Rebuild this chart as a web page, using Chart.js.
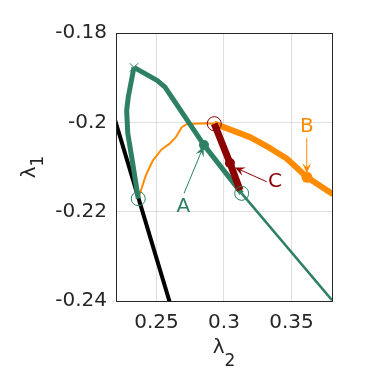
<!DOCTYPE html>
<html>
<head>
<meta charset="utf-8">
<script src="https://cdn.jsdelivr.net/npm/chart.js@4"></script>
<style>
  body { margin: 0; background: #fff; }
  canvas { display: block; }
</style>
</head>
<body>
<canvas id="chart" width="367" height="382"></canvas>
<script>
// axis ticks
const xTicks = [0.25, 0.3, 0.35];
const yTicks = [-0.24, -0.22, -0.2, -0.18];

// orange branch (thin part, then thick part)
const orangeThinX = [0.2367, 0.2385, 0.2422, 0.2474, 0.2533, 0.2600, 0.2644, 0.2687, 0.2724, 0.2874, 0.2928];
const orangeThinY = [-0.2168, -0.2152, -0.2118, -0.2085, -0.2062, -0.2047, -0.2033, -0.2011, -0.2004, -0.2002, -0.2003];
const orangeThickX = [0.2928, 0.2993, 0.3193, 0.3341, 0.3464, 0.3615, 0.3807];
const orangeThickY = [-0.2003, -0.2010, -0.2033, -0.2058, -0.2081, -0.2123, -0.2161];

// green branches
const greenLeftX = [0.2333, 0.2291, 0.2279, 0.2287, 0.2328, 0.2365];
const greenLeftY = [-0.1877, -0.1943, -0.1973, -0.2024, -0.2100, -0.2171];
const greenRightX = [0.2333, 0.2504, 0.2563, 0.2852, 0.3131];
const greenRightY = [-0.1877, -0.1906, -0.1921, -0.2051, -0.2159];
const greenThinX = [0.3131, 0.3800];
const greenThinY = [-0.2159, -0.2398];

// dark red branch
const redX = [0.2928, 0.3044, 0.3119];
const redY = [-0.2003, -0.2091, -0.2152];

// black line
const blackX = [0.2180, 0.2613];
const blackY = [-0.1982, -0.2418];

// markers
const circleX = [0.2365, 0.3131];
const circleY = [-0.2171, -0.2159];
const redCircleX = [0.2928];
const redCircleY = [-0.2003];
const crossX = [0.2333];
const crossY = [-0.1877];
const dotsX = { A: 0.2852, B: 0.3615, C: 0.3044 };
const dotsY = { A: -0.2051, B: -0.2123, C: -0.2091 };

// annotations
const labels = ["A", "B", "C"];
const labelX = [0.2699, 0.3613, 0.3378];
const labelY = [-0.2190, -0.2010, -0.2133];
const arrowFromX = [0.2704, 0.3613, 0.3316];
const arrowFromY = [-0.2159, -0.2035, -0.2133];
const arrowToX = [0.2848, 0.3613, 0.3081];
const arrowToY = [-0.2054, -0.2114, -0.2101];

const GREEN = "#2e8065";
const ORANGE = "#ff8c00";
const RED = "#8b0000";
const labelColors = [GREEN, ORANGE, RED];

const pts = (xs, ys) => xs.map((x, i) => ({ x: x, y: ys[i] }));

function lineSet(xs, ys, color, width, order) {
    return {
        data: pts(xs, ys),
        showLine: true,
        borderColor: color,
        backgroundColor: color,
        borderWidth: width,
        pointRadius: 0,
        tension: 0,
        borderJoinStyle: "round",
        order: order,
        clip: 0
    };
}

const overlayPlugin = {
    id: "overlay",
    afterDraw(chart) {
        const ctx = chart.ctx;
        const xs = chart.scales.x, ys = chart.scales.y;
        const area = chart.chartArea;
        ctx.save();

        // box
        ctx.strokeStyle = "#262626";
        ctx.lineWidth = 1;
        ctx.strokeRect(Math.round(area.left) + 0.5, Math.round(area.top) + 0.5,
            Math.round(area.right - area.left), Math.round(area.bottom - area.top));

        // annotation arrows and letters
        labels.forEach((lab, i) => {
            const x0 = xs.getPixelForValue(arrowFromX[i]);
            const y0 = ys.getPixelForValue(arrowFromY[i]);
            const x1 = xs.getPixelForValue(arrowToX[i]);
            const y1 = ys.getPixelForValue(arrowToY[i]);
            const a = Math.atan2(y1 - y0, x1 - x0);
            const len = 10, hw = 4.5;
            ctx.strokeStyle = labelColors[i];
            ctx.fillStyle = labelColors[i];
            ctx.lineWidth = 1;
            ctx.beginPath();
            ctx.moveTo(x0, y0);
            ctx.lineTo(x1 - Math.cos(a) * 4, y1 - Math.sin(a) * 4);
            ctx.stroke();
            const bx = x1 - Math.cos(a) * len, by = y1 - Math.sin(a) * len;
            const nx = -Math.sin(a), ny = Math.cos(a);
            const ix = x1 - Math.cos(a) * len * 0.6, iy = y1 - Math.sin(a) * len * 0.6;
            ctx.beginPath();
            ctx.moveTo(x1, y1);
            ctx.lineTo(bx + nx * hw, by + ny * hw);
            ctx.lineTo(ix, iy);
            ctx.lineTo(bx - nx * hw, by - ny * hw);
            ctx.closePath();
            ctx.fill();

            ctx.font = "20px 'DejaVu Sans'";
            ctx.textAlign = "center";
            ctx.textBaseline = "middle";
            ctx.fillText(lab, xs.getPixelForValue(labelX[i]), ys.getPixelForValue(labelY[i]));
        });

        // axis titles
        ctx.fillStyle = "#262626";
        ctx.textBaseline = "alphabetic";
        ctx.textAlign = "left";
        const cx = (area.left + area.right) / 2;
        ctx.font = "20px 'DejaVu Sans'";
        const wl = ctx.measureText("\u03bb").width;
        ctx.font = "17px 'DejaVu Sans'";
        const w2 = ctx.measureText("2").width;
        let sx = cx - (wl + w2) / 2;
        ctx.font = "20px 'DejaVu Sans'";
        ctx.fillText("\u03bb", sx, 353);
        ctx.font = "17px 'DejaVu Sans'";
        ctx.fillText("2", sx + wl, 366);

        const cy = (area.top + area.bottom) / 2;
        ctx.translate(35, cy);
        ctx.rotate(-Math.PI / 2);
        ctx.font = "20px 'DejaVu Sans'";
        const wl1 = ctx.measureText("\u03bb").width;
        ctx.font = "17px 'DejaVu Sans'";
        const w1 = ctx.measureText("1").width;
        sx = -(wl1 + w1) / 2;
        ctx.font = "20px 'DejaVu Sans'";
        ctx.fillText("\u03bb", sx, 0);
        ctx.font = "17px 'DejaVu Sans'";
        ctx.fillText("1", sx + wl1, 8);

        ctx.restore();
    }
};

new Chart(document.getElementById("chart").getContext("2d"), {
    type: "scatter",
    data: {
        datasets: [
            lineSet(orangeThinX, orangeThinY, ORANGE, 2, 9),
            lineSet(orangeThickX, orangeThickY, ORANGE, 6, 8),
            lineSet(blackX, blackY, "#000000", 4, 7),
            lineSet(greenThinX, greenThinY, GREEN, 2.5, 6),
            lineSet(greenLeftX, greenLeftY, GREEN, 5, 5),
            lineSet(greenRightX, greenRightY, GREEN, 5, 4),
            lineSet(redX, redY, RED, 7, 3),
            {
                data: [{ x: dotsX.A, y: dotsY.A }],
                pointRadius: 5, pointStyle: "circle",
                backgroundColor: GREEN, borderColor: GREEN, borderWidth: 0, order: 2
            },
            {
                data: [{ x: dotsX.B, y: dotsY.B }],
                pointRadius: 5.5, pointStyle: "circle",
                backgroundColor: ORANGE, borderColor: ORANGE, borderWidth: 0, order: 2
            },
            {
                data: [{ x: dotsX.C, y: dotsY.C }],
                pointRadius: 5, pointStyle: "circle",
                backgroundColor: RED, borderColor: RED, borderWidth: 0, order: 2
            },
            {
                data: pts(circleX, circleY),
                pointRadius: 7, pointStyle: "circle",
                backgroundColor: "rgba(0,0,0,0)", borderColor: GREEN, borderWidth: 1, order: 1
            },
            {
                data: pts(redCircleX, redCircleY),
                pointRadius: 7, pointStyle: "circle",
                backgroundColor: "rgba(0,0,0,0)", borderColor: RED, borderWidth: 1, order: 1
            },
            {
                data: pts(crossX, crossY),
                pointRadius: 6, pointStyle: "crossRot",
                backgroundColor: GREEN, borderColor: GREEN, borderWidth: 1, order: 1
            }
        ]
    },
    options: {
        responsive: false,
        animation: false,
        events: [],
        layout: { padding: { top: 33, right: 35, left: 0, bottom: 0 } },
        plugins: {
            legend: { display: false },
            tooltip: { enabled: false }
        },
        scales: {
            x: {
                type: "linear",
                min: 0.22,
                max: 0.38,
                afterBuildTicks: (axis) => { axis.ticks = xTicks.map(v => ({ value: v })); },
                afterFit: (scale) => { scale.height = 81; },
                grid: { color: "rgba(38,38,38,0.15)", drawTicks: false },
                border: { display: false },
                ticks: {
                    padding: 10,
                    color: "#262626",
                    font: { family: "'DejaVu Sans'", size: 20 },
                    maxRotation: 0,
                    callback: (v) => String(v)
                }
            },
            y: {
                type: "linear",
                min: -0.24,
                max: -0.18,
                afterBuildTicks: (axis) => { axis.ticks = yTicks.map(v => ({ value: v })); },
                afterFit: (scale) => { scale.width = 116; },
                grid: { color: "rgba(38,38,38,0.15)", drawTicks: false },
                border: { display: false },
                ticks: {
                    padding: 9,
                    color: "#262626",
                    font: { family: "'DejaVu Sans'", size: 20 },
                    callback: (v) => String(v)
                }
            }
        }
    },
    plugins: [overlayPlugin]
});
</script>
</body>
</html>
